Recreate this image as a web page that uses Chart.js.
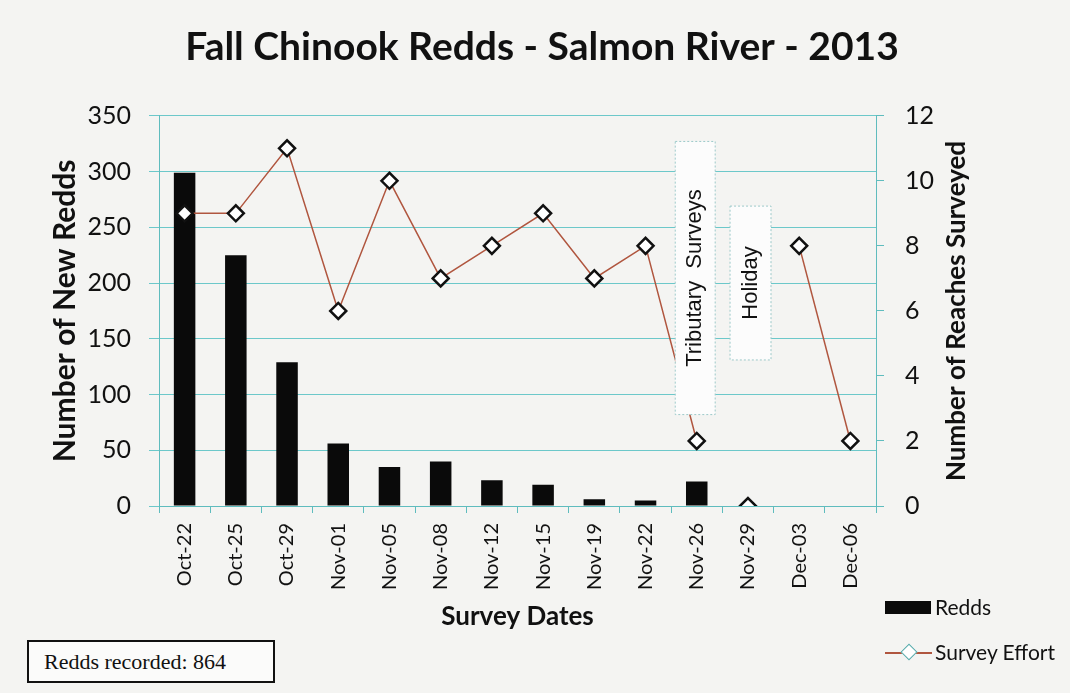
<!DOCTYPE html>
<html>
<head>
<meta charset="utf-8">
<script src="https://cdn.jsdelivr.net/npm/chart.js@4.4.1/dist/chart.umd.min.js"></script>
<style>
  body { margin: 0; background: #f4f4f2; }
  #wrap { position: relative; width: 1070px; height: 693px; overflow: hidden; }
  #chart { position: absolute; left: 0; top: 0; }
  .note-box {
    position: absolute; left: 27px; top: 640px; width: 229px; height: 39px;
    border: 2px solid #111; background: #fbfbfa;
    font-family: 'Liberation Serif', serif; font-size: 22px; line-height: 39px;
    padding-left: 15px; color: #111;
  }
  .legend { position: absolute; left: 885px; font-family: Lato, sans-serif; font-size: 21px; color: #111; }
  .legend .sw { position: absolute; left: 0; }
  .legend .lbl { position: absolute; left: 50px; white-space: nowrap; }
</style>
</head>
<body>
<div id="wrap">
  <canvas id="chart" width="1070" height="693"></canvas>
  <div class="note-box">Redds recorded: 864</div>
  <div class="legend" style="top:596px">
    <div class="sw" style="top:5px;width:46px;height:13px;background:#0a0a0a"></div>
    <div class="lbl" style="top:-2px">Redds</div>
  </div>
  <div class="legend" style="top:641px">
    <div class="sw" style="top:11px;width:47px;height:2px;background:#b0563f"></div>
    <div class="sw" style="top:5px;left:18px;width:10px;height:10px;background:#fff;border:1.5px solid #5aa;transform:rotate(45deg)"></div>
    <div class="lbl" style="top:-2px">Survey Effort</div>
  </div>
</div>
<script>
// Survey dates and values
const dates = ['Oct-22', 'Oct-25', 'Oct-29', 'Nov-01', 'Nov-05', 'Nov-08', 'Nov-12',
               'Nov-15', 'Nov-19', 'Nov-22', 'Nov-26', 'Nov-29', 'Dec-03', 'Dec-06'];
const redds = [299, 225, 129, 56, 35, 40, 23, 19, 6, 5, 22, 0, null, null];
const reachesSurveyed = [9, 9, 11, 6, 10, 7, 8, 9, 7, 8, 2, 0, 8, 2];
const lineBreaksAfter = ['Nov-26', 'Nov-29'];
const reddTicks = { min: 0, max: 350, step: 50 };
const reachTicks = { min: 0, max: 12, step: 2 };

const gridColor = '#6cc8ca';
const axisColor = '#5fbcbe';
const lineColor = '#b0563f';

Chart.defaults.font.family = 'Lato, sans-serif';
Chart.defaults.color = '#111';

// Text boxes drawn over the plot (positioned with the chart scales)
const annotations = {
    id: 'annotations',
    afterDatasetsDraw(chart) {
        const ctx = chart.ctx;
        const x = chart.scales.x;
        const y = chart.scales.y;
        const boxes = [
            { text: 'Tributary  Surveys', from: 9.58, to: 10.36, low: 82, high: 327 },
            { text: 'Holiday', from: 10.65, to: 11.45, low: 131, high: 269 }
        ];
        const half = x.getPixelForValue(1) - x.getPixelForValue(0);
        ctx.save();
        boxes.forEach(b => {
            const left = x.getPixelForValue(0) + b.from * half;
            const right = x.getPixelForValue(0) + b.to * half;
            const top = y.getPixelForValue(b.high);
            const bottom = y.getPixelForValue(b.low);
            ctx.fillStyle = '#fcfcfc';
            ctx.fillRect(left, top, right - left, bottom - top);
            ctx.setLineDash([2, 2]);
            ctx.strokeStyle = '#9cc9c9';
            ctx.lineWidth = 1;
            ctx.strokeRect(left, top, right - left, bottom - top);
            ctx.setLineDash([]);
            ctx.translate((left + right) / 2, (top + bottom) / 2);
            ctx.rotate(-Math.PI / 2);
            ctx.fillStyle = '#111';
            ctx.font = '22px "Liberation Sans", Arial, sans-serif';
            ctx.textAlign = 'center';
            ctx.textBaseline = 'middle';
            ctx.fillText(b.text, 0, 0);
            ctx.setTransform(1, 0, 0, 1, 0, 0);
        });

        // right axis title reads bottom to top
        const area = chart.chartArea;
        ctx.translate(957, (area.top + area.bottom) / 2);
        ctx.rotate(-Math.PI / 2);
        ctx.font = 'bold 26px Lato, sans-serif';
        ctx.textAlign = 'center';
        ctx.textBaseline = 'middle';
        ctx.fillStyle = '#111';
        ctx.fillText('Number of Reaches Surveyed', 0, 0);
        ctx.restore();
    }
};

new Chart(document.getElementById('chart'), {
    data: {
        labels: dates,
        datasets: [
            {
                type: 'line',
                label: 'Survey Effort',
                data: reachesSurveyed,
                yAxisID: 'y1',
                order: 0,
                borderColor: lineColor,
                borderWidth: 1.5,
                pointStyle: 'rectRot',
                pointRadius: 8,
                pointBackgroundColor: '#fff',
                pointBorderColor: '#111',
                pointBorderWidth: 2.5,
                segment: {
                    borderColor: c => lineBreaksAfter.includes(dates[c.p0DataIndex]) ? 'transparent' : lineColor
                }
            },
            {
                type: 'bar',
                label: 'Redds',
                data: redds,
                yAxisID: 'y',
                order: 1,
                backgroundColor: '#0a0a0a',
                categoryPercentage: 1,
                barPercentage: 0.42
            }
        ]
    },
    options: {
        responsive: false,
        animation: false,
        devicePixelRatio: 1,
        layout: { padding: { left: 14 } },
        plugins: {
            legend: { display: false },
            tooltip: { enabled: false },
            title: {
                display: true,
                text: 'Fall Chinook Redds - Salmon River - 2013',
                font: { size: 39, weight: 'bold' },
                color: '#111',
                padding: { top: 24, bottom: 45 }
            }
        },
        scales: {
            x: {
                offset: true,
                grid: { offset: true, drawOnChartArea: false, color: axisColor, tickLength: 7 },
                border: { color: axisColor },
                ticks: { minRotation: 90, maxRotation: 90, padding: 10, font: { size: 20 } },
                title: {
                    display: true, text: 'Survey Dates',
                    font: { size: 26, weight: 'bold' },
                    padding: { top: 0, bottom: 61 }
                },
                afterFit: s => { s.height = 187; }
            },
            y: {
                position: 'left',
                min: reddTicks.min, max: reddTicks.max,
                ticks: { stepSize: reddTicks.step, padding: 18, font: { size: 25 } },
                grid: { color: gridColor, tickLength: 10 },
                border: { color: axisColor },
                title: {
                    display: true, text: 'Number of New Redds',
                    font: { size: 30, weight: 'bold' },
                    padding: { top: 33, bottom: 0 }
                },
                afterFit: s => { s.width = 145; }
            },
            y1: {
                position: 'right',
                min: reachTicks.min, max: reachTicks.max,
                ticks: { stepSize: reachTicks.step, padding: 21, font: { size: 25 } },
                grid: { drawOnChartArea: false, color: axisColor, tickLength: 8 },
                border: { color: axisColor },
                afterFit: s => { s.width = 194; }
            }
        }
    },
    plugins: [annotations]
});
</script>
</body>
</html>
